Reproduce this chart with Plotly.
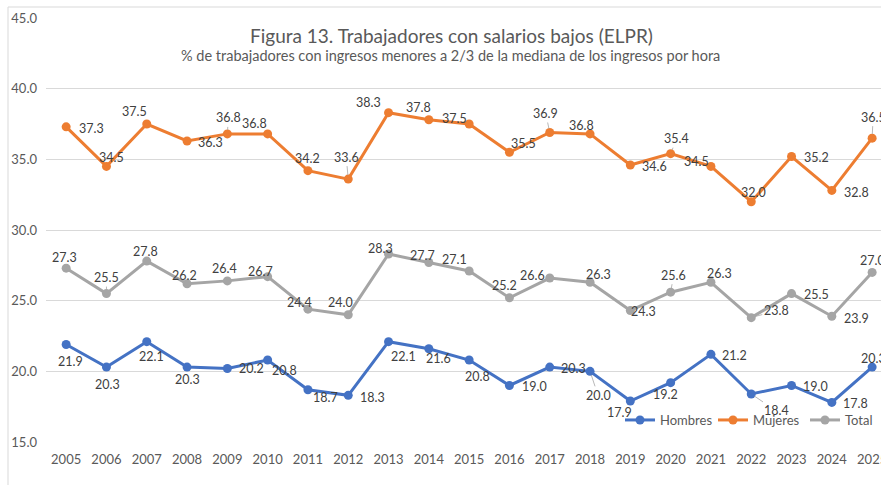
import plotly.graph_objects as go

years = list(range(2005, 2026))
hombres = [21.9, 20.3, 22.1, 20.3, 20.2, 20.8, 18.7, 18.3, 22.1, 21.6, 20.8, 19.0, 20.3, 20.0, 17.9, 19.2, 21.2, 18.4, 19.0, 17.8, 20.3]
mujeres = [37.3, 34.5, 37.5, 36.3, 36.8, 36.8, 34.2, 33.6, 38.3, 37.8, 37.5, 35.5, 36.9, 36.8, 34.6, 35.4, 34.5, 32.0, 35.2, 32.8, 36.5]
total = [27.3, 25.5, 27.8, 26.2, 26.4, 26.7, 24.4, 24.0, 28.3, 27.7, 27.1, 25.2, 26.6, 26.3, 24.3, 25.6, 26.3, 23.8, 25.5, 23.9, 27.0]

# label offsets (px, text centre relative to marker; +y is down) and leader-line flags
off_m = [(25, 2), (5, -9), (-12, -13), (23, 2), (1, -16), (-13, -10), (0, -12), (-2, -22), (-20, -10),
         (-10, -12), (-15, -6), (14, -9), (-4, -19), (-9, -8), (24, 2), (6, -15), (-14, -5), (2, -9),
         (25, 1), (25, 2), (1, -21)]
lead_m = [0, 0, 0, 0, 1, 0, 0, 1, 0, 0, 0, 0, 1, 0, 0, 1, 0, 0, 0, 0, 1]
off_t = [(-2, -11), (0, -16), (-1, -10), (-3, -8), (-3, -12), (-7, -5), (-8, -7), (-8, -12), (-8, -6),
         (-6, -7), (-15, -11), (-5, -12), (-17, -3), (8, -8), (13, 1), (3, -17), (9, -9), (25, -7),
         (25, 1), (25, 2), (0, -12)]
lead_t = [0, 1, 0, 0, 0, 0, 0, 0, 0, 0, 0, 0, 0, 0, 0, 1, 0, 1, 0, 0, 0]
off_h = [(4, 17), (1, 17), (5, 15), (0, 12), (24, 0), (17, 10), (18, 8), (24, 2), (15, 15), (10, 10),
         (8, 16), (25, 1), (24, 1), (8, 24), (-11, 11), (-5, 12), (24, 1), (25, 17), (24, 1), (24, 1),
         (1, -9)]
lead_h = [0, 0, 0, 0, 0, 0, 0, 0, 0, 0, 0, 0, 0, 1, 0, 0, 0, 1, 0, 0, 0]

FONT = "Lato"
TXT = "#404040"
GRAY = "#595959"
PL, PW, PT, PH = 46, 835, 18, 424  # plot area in px

fig = go.Figure()
annotations = []
series = [("Hombres", hombres, "#4472C4", off_h, lead_h, "legend", 620),
          ("Mujeres", mujeres, "#ED7D31", off_m, lead_m, "legend2", 713),
          ("Total", total, "#A5A5A5", off_t, lead_t, "legend3", 805)]
legends = {}
for name, vals, col, offs, leads, lg, lx in series:
    fig.add_trace(go.Scatter(
        x=years, y=vals, name=name, mode="lines+markers", legend=lg,
        line=dict(color=col, width=3), marker=dict(color=col, size=9), cliponaxis=False))
    legends[lg] = dict(orientation="h", x=(lx - PL) / PW, y=(PT + PH - 420) / PH, xanchor="left",
                       yanchor="middle", font=dict(family=FONT, size=13, color=GRAY),
                       bgcolor="rgba(0,0,0,0)", itemwidth=30)
    for yr, v, (dx, dy), ld in zip(years, vals, offs, leads):
        a = dict(x=yr, y=v, xref="x", yref="y", text=f"{v:.1f}",
                 font=dict(family=FONT, size=12.5, color=TXT))
        if ld:
            a.update(showarrow=True, ax=dx, ay=dy, arrowhead=0, arrowwidth=0.8,
                     arrowcolor="#A6A6A6", standoff=4)
        else:
            a.update(showarrow=False, xshift=dx, yshift=-dy)
        annotations.append(a)

annotations += [
    dict(text="Figura 13. Trabajadores con salarios bajos (ELPR)", xref="paper", yref="paper",
         x=(451 - PL) / PW, y=1 - (35 - PT) / PH, xanchor="center", yanchor="middle",
         showarrow=False, font=dict(family=FONT, size=19, color=GRAY)),
    dict(text="% de trabajadores con ingresos menores a 2/3 de la mediana de los ingresos por hora",
         xref="paper", yref="paper", x=(450 - PL) / PW, y=1 - (55 - PT) / PH,
         xanchor="center", yanchor="middle", showarrow=False,
         font=dict(family=FONT, size=14.5, color=GRAY)),
]

fig.update_layout(
    width=881, height=485,
    margin=dict(l=PL, r=0, t=PT, b=485 - PT - PH, autoexpand=False),
    paper_bgcolor="white", plot_bgcolor="white",
    font=dict(family=FONT, color=GRAY),
    showlegend=True,
    **legends,
    xaxis=dict(range=[2004.5, 2025.22], dtick=1, tick0=2005, showgrid=False, zeroline=False,
               showline=False, ticks="", ticklabelstandoff=8, ticklabeloverflow="allow",
               tickfont=dict(family=FONT, size=13, color=GRAY)),
    yaxis=dict(range=[15, 45], dtick=5, tickformat=".1f", gridcolor="#D9D9D9", gridwidth=1,
               zeroline=False, showline=False, ticks="", ticklabelstandoff=8,
               tickfont=dict(family=FONT, size=13, color=GRAY)),
    annotations=annotations,
    shapes=[
        dict(type="line", xref="paper", yref="paper", x0=(8 - PL) / PW, x1=1.05,
             y0=1 + 11 / PH, y1=1 + 11 / PH, line=dict(color="#D9D9D9", width=1)),
        dict(type="line", xref="paper", yref="paper", x0=(8 - PL) / PW, x1=(8 - PL) / PW,
             y0=1 + 11 / PH, y1=-0.2, line=dict(color="#D9D9D9", width=1)),
    ],
)

fig.write_html("out.html", config={"displayModeBar": False},
               post_script="document.body.style.margin='0px';")
